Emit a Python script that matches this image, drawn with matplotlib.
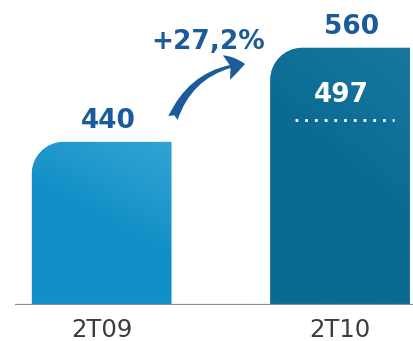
import matplotlib
matplotlib.use("Agg")
import matplotlib.pyplot as plt
import numpy as np
from matplotlib.path import Path
from matplotlib.patches import PathPatch, FancyArrowPatch
from matplotlib.colors import LinearSegmentedColormap
import matplotlib.transforms as mtransforms

# dados
periodos = ["2T09", "2T10"]
valores = [440, 560]
valor_interno = 497          # valor escrito dentro da barra de 2T10
variacao = "+27,2%"

cores_base = ["#1190c7", "#0b6a92"]
cores_luz = ["#3aa8d8", "#1a7aa3"]
azul_texto = "#1b5b9b"

fig = plt.figure(figsize=(4.14, 3.41), dpi=100)
ax = fig.add_axes([15 / 414, 36 / 341, 399 / 414, 305 / 341])
ax.set_xlim(-0.363, 1.310)
ax.set_ylim(232, 621)
ax.axis("off")
ax.axhline(232, color="#8a8a8a", lw=1.6, zorder=5)

largura = 0.585
fig.canvas.draw()
# raio do canto arredondado em pixels -> unidades de dados
px_x = ax.transData.transform((1, 0))[0] - ax.transData.transform((0, 0))[0]
px_y = ax.transData.transform((0, 1))[1] - ax.transData.transform((0, 0))[1]


def barra_arredondada(xc, topo, base, raio_px):
    x0, x1 = xc - largura / 2, xc + largura / 2
    rx, ry = raio_px / px_x, raio_px / px_y
    k = 0.5523
    verts = [(x0, base), (x1, base), (x1, topo), (x0 + rx, topo),
             (x0 + rx - k * rx, topo), (x0, topo - ry + k * ry), (x0, topo - ry),
             (x0, base)]
    codes = [Path.MOVETO, Path.LINETO, Path.LINETO, Path.LINETO,
             Path.CURVE4, Path.CURVE4, Path.CURVE4, Path.CLOSEPOLY]
    return Path(verts, codes)


for i, v in enumerate(valores):
    caminho = barra_arredondada(i, v, 232, 32)
    patch = PathPatch(caminho, facecolor=cores_base[i], edgecolor="none", zorder=2)
    ax.add_patch(patch)
    # brilho suave no topo direito
    gx, gy = np.meshgrid(np.linspace(0, 1, 80), np.linspace(0, 1, 120))
    grad = np.clip(0.5 * gx + 1.1 * gy - 0.85, 0, 1) ** 0.8
    cmap = LinearSegmentedColormap.from_list("b", [cores_base[i], cores_luz[i]])
    img = ax.imshow(grad, cmap=cmap, origin="lower", aspect="auto",
                    extent=[i - largura / 2, i + largura / 2, 232, v],
                    zorder=3, alpha=0.8)
    img.set_clip_path(patch)
    ax.set_xlim(-0.363, 1.310)
    ax.set_ylim(232, 621)

    dx = 7 if i == 0 else 11
    ax.annotate(str(v), xy=(i, v), xytext=(dx, 21), textcoords="offset pixels",
                ha="center", va="center", fontsize=19, fontweight="bold",
                color=azul_texto, zorder=6)
    ax.annotate(periodos[i], xy=(i, 232), xytext=(0, -25), textcoords="offset pixels",
                ha="center", va="center", fontsize=17.5, color="#3c3c3c", zorder=6)

# valor dentro da barra de 2T10 e linha pontilhada
ax.annotate(str(valor_interno), xy=(1, valores[1]), xytext=(1, -47),
            textcoords="offset pixels", ha="center", va="center", fontsize=19,
            fontweight="bold", color="white", zorder=6)
trans = mtransforms.offset_copy(ax.transData, fig=fig, x=0, y=-72, units="dots")
ax.plot([1 - 0.19, 1 + 0.225], [valores[1], valores[1]], transform=trans,
        color="white", lw=2, linestyle=(0, (1, 2.5)), zorder=6)

# variação e seta curva
fig.text(208 / 414, 1 - 42 / 341, variacao, ha="center", va="center",
         fontsize=19, fontweight="bold", color=azul_texto)
seta = FancyArrowPatch((173 / 414, 1 - 118 / 341), (245 / 414, 1 - 64 / 341),
                       transform=fig.transFigure, connectionstyle="arc3,rad=-0.3",
                       arrowstyle="fancy,head_length=0.85,head_width=1.15,tail_width=0.45",
                       mutation_scale=16, color=azul_texto, lw=0,
                       shrinkA=0, shrinkB=0)
fig.patches.append(seta)

fig.savefig("out.png", dpi=100)
